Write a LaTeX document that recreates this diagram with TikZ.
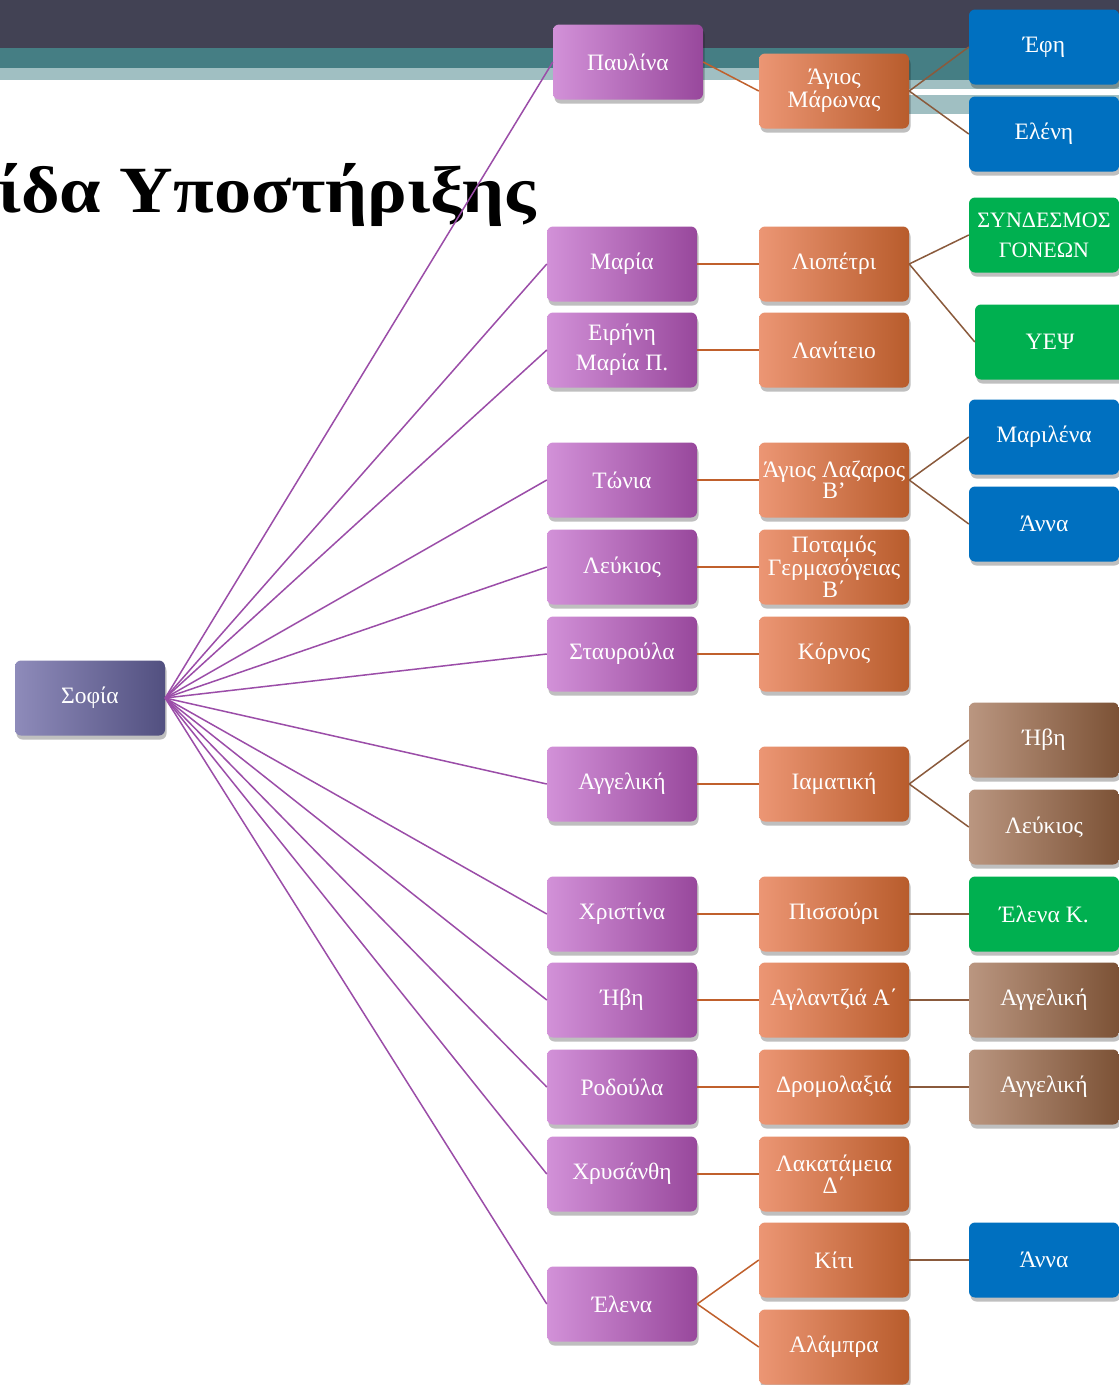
\documentclass[tikz,border=0pt]{standalone}
\usepackage{fontspec}
\usepackage{graphicx}
\setmainfont{Liberation Serif}
\usetikzlibrary{shadows}
\definecolor{bandDark}{RGB}{66,66,84}
\definecolor{bandTeal}{RGB}{69,126,132}
\definecolor{bandLight}{RGB}{160,191,194}
\definecolor{purL}{RGB}{210,145,216}
\definecolor{purD}{RGB}{152,72,156}
\definecolor{oraL}{RGB}{236,150,116}
\definecolor{oraD}{RGB}{184,92,44}
\definecolor{sofL}{RGB}{142,139,186}
\definecolor{sofD}{RGB}{82,80,128}
\definecolor{bluF}{RGB}{0,112,192}
\definecolor{grnF}{RGB}{0,176,80}
\definecolor{brnL}{RGB}{186,150,128}
\definecolor{brnD}{RGB}{124,82,54}
\definecolor{purLine}{RGB}{155,77,168}
\definecolor{oraLine}{RGB}{192,96,44}
\definecolor{brnLine}{RGB}{138,90,60}
\tikzset{
  box/.style={rectangle, rounded corners=6pt, minimum width=150pt, minimum height=75pt,
    inner sep=1pt, text=white, align=center, font=\fontsize{23.5}{21.5}\selectfont,
    drop shadow={shadow xshift=1.5pt, shadow yshift=-4pt, fill=black, opacity=0.25}},
  sofbox/.style={box, left color=sofL, right color=sofD},
  pbox/.style={box, left color=purL, right color=purD},
  obox/.style={box, left color=oraL, right color=oraD},
  bbox/.style={box, fill=bluF},
  gbox/.style={box, fill=grnF},
  nbox/.style={box, left color=brnL, right color=brnD},
  wide/.style={font=\fontsize{23.5}{30}\selectfont},
  pline/.style={draw=purLine, line width=1.5pt},
  oline/.style={draw=oraLine, line width=1.5pt},
  nline/.style={draw=brnLine, line width=1.5pt},
}
\begin{document}
\begin{tikzpicture}[x=1pt,y=-1pt]
\useasboundingbox (0,0) rectangle (1119,1385);
\fill[white] (0,0) rectangle (1119,1385);
% top bands
\fill[bandDark] (0,0) rectangle (1119,48);
\fill[bandTeal] (0,48) rectangle (1119,68);
\fill[bandLight] (0,68) rectangle (880,80);
\fill[bandTeal] (880,68) rectangle (1119,80);
\fill[bandLight] (880,80) rectangle (1119,89);
\fill[bandLight] (880,95) rectangle (1119,114);
% title
\node[anchor=base west, inner sep=0pt, font=\fontsize{66}{66}\selectfont\bfseries] (title) at (-2,212) {\scalebox{1.125}[1]{ίδα Υποστήριξης}};
% root
\node[sofbox] (sofia) at (90,698) {Σοφία};
% column 1
\node[pbox] (p1) at (628,62) {Παυλίνα};
\node[pbox] (p2) at (622,264) {Μαρία};
\node[pbox, wide] (p3) at (622,350) {Ειρήνη\\Μαρία Π.};
\node[pbox] (p4) at (622,480) {Τώνια};
\node[pbox] (p5) at (622,567) {Λεύκιος};
\node[pbox] (p6) at (622,654) {Σταυρούλα};
\node[pbox] (p7) at (622,784) {Αγγελική};
\node[pbox] (p8) at (622,914) {Χριστίνα};
\node[pbox] (p9) at (622,1000) {Ήβη};
\node[pbox] (p10) at (622,1087) {Ροδούλα};
\node[pbox] (p11) at (622,1174) {Χρυσάνθη};
\node[pbox] (p12) at (622,1304) {Έλενα};
% column 2
\node[obox] (o1) at (834,91) {Άγιος\\Μάρωνας};
\node[obox] (o2) at (834,264) {Λιοπέτρι};
\node[obox] (o3) at (834,350) {Λανίτειο};
\node[obox] (o4) at (834,480) {Άγιος Λαζαρος\\Β’};
\node[obox] (o5) at (834,567) {Ποταμός\\Γερμασόγειας\\Β΄};
\node[obox] (o6) at (834,654) {Κόρνος};
\node[obox] (o7) at (834,784) {Ιαματική};
\node[obox] (o8) at (834,914) {Πισσούρι};
\node[obox] (o9) at (834,1000) {Αγλαντζιά Α΄};
\node[obox] (o10) at (834,1087) {Δρομολαξιά};
\node[obox] (o11) at (834,1174) {Λακατάμεια\\Δ΄};
\node[obox] (o12) at (834,1260) {Κίτι};
\node[obox] (o13) at (834,1347) {Αλάμπρα};
% column 3
\node[bbox] (c1) at (1044,47) {Έφη};
\node[bbox] (c2) at (1044,134) {Ελένη};
\node[gbox, font=\fontsize{22}{30}\selectfont] (c3) at (1044,235) {ΣΥΝΔΕΣΜΟΣ\\ΓΟΝΕΩΝ};
\node[gbox] (c4) at (1050,342) {ΥΕΨ};
\node[bbox] (c5) at (1044,437) {Μαριλένα};
\node[bbox] (c6) at (1044,524) {Άννα};
\node[nbox] (c7) at (1044,740) {Ήβη};
\node[nbox] (c8) at (1044,827) {Λεύκιος};
\node[gbox] (c9) at (1044,914) {Έλενα Κ.};
\node[nbox] (c10) at (1044,1000) {Αγγελική};
\node[nbox] (c11) at (1044,1087) {Αγγελική};
\node[bbox] (c12) at (1044,1260) {Άννα};
% connectors root -> column 1
\foreach \n in {p1,p2,p3,p4,p5,p6,p7,p8,p9,p10,p11,p12}
  \draw[pline] (sofia.east) -- (\n.west);
% column 1 -> column 2
\draw[oline] (p1.east) -- (o1.west);
\draw[oline] (p2.east) -- (o2.west);
\draw[oline] (p3.east) -- (o3.west);
\draw[oline] (p4.east) -- (o4.west);
\draw[oline] (p5.east) -- (o5.west);
\draw[oline] (p6.east) -- (o6.west);
\draw[oline] (p7.east) -- (o7.west);
\draw[oline] (p8.east) -- (o8.west);
\draw[oline] (p9.east) -- (o9.west);
\draw[oline] (p10.east) -- (o10.west);
\draw[oline] (p11.east) -- (o11.west);
\draw[oline] (p12.east) -- (o12.west);
\draw[oline] (p12.east) -- (o13.west);
% column 2 -> column 3
\draw[nline] (o1.east) -- (c1.west);
\draw[nline] (o1.east) -- (c2.west);
\draw[nline] (o2.east) -- (c3.west);
\draw[nline] (o2.east) -- (c4.west);
\draw[nline] (o4.east) -- (c5.west);
\draw[nline] (o4.east) -- (c6.west);
\draw[nline] (o7.east) -- (c7.west);
\draw[nline] (o7.east) -- (c8.west);
\draw[nline] (o8.east) -- (c9.west);
\draw[nline] (o9.east) -- (c10.west);
\draw[nline] (o10.east) -- (c11.west);
\draw[nline] (o12.east) -- (c12.west);
\end{tikzpicture}
\end{document}
